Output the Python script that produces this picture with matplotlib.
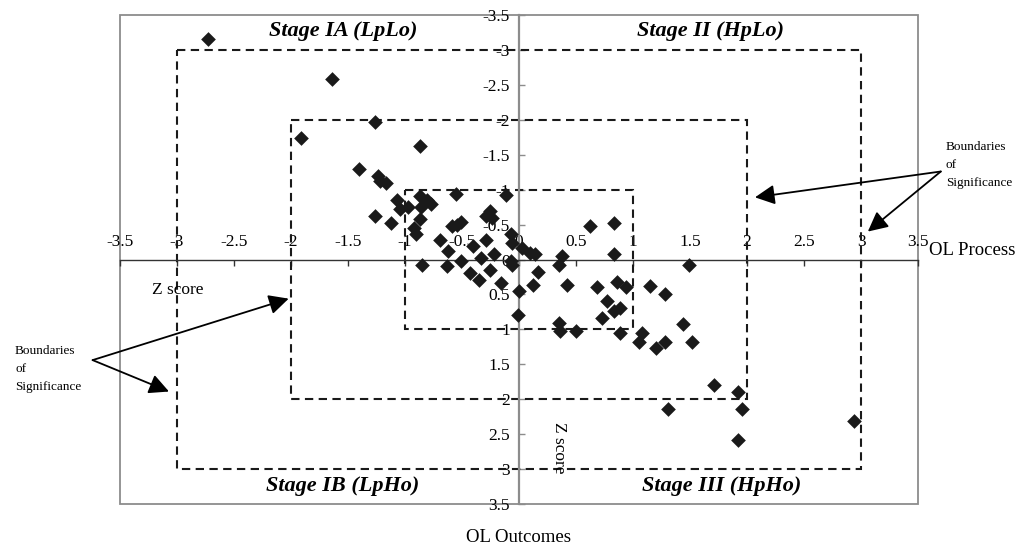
import numpy as np
import matplotlib
matplotlib.use('Agg')
import matplotlib.pyplot as plt
from matplotlib.patches import Rectangle

plt.rcParams['font.family'] = ['Liberation Serif', 'DejaVu Serif']

# z scores (x = OL process, y = OL outcomes)
ol_process = [-2.73, -1.64, -1.91, -1.26, -0.87, -1.40, -1.24, -1.22, -1.17,
              -1.07, -1.26, -1.12, -1.04, -0.97, -0.87, -0.86, -0.81, -0.77,
              -0.87, -0.92, -0.90, -0.55, -0.85, -0.69, -0.62, -0.63, -0.59,
              -0.51, -0.54, -0.51, -0.40, -0.43, -0.35, -0.33, -0.29, -0.29,
              -0.25, -0.24, -0.25, -0.22, -0.16, -0.11, -0.07, -0.06, -0.07,
              -0.06, 0.00, -0.01, 0.03, 0.10, 0.14, 0.17, 0.12, 0.35, 0.38,
              0.42, 0.35, 0.36, 0.50, 0.62, 0.83, 0.83, 0.68, 0.86, 0.94,
              0.77, 0.83, 0.89, 0.73, 0.89, 1.08, 1.05, 1.20, 1.28, 1.15,
              1.28, 1.49, 1.44, 1.52, 1.71, 1.92, 1.31, 1.96, 1.92, 2.94]
ol_outcomes = [-3.16, -2.59, -1.74, -1.97, -1.62, -1.30, -1.20, -1.13, -1.09,
               -0.85, -0.62, -0.52, -0.73, -0.75, -0.91, -0.75, -0.85, -0.80,
               -0.58, -0.45, -0.37, -0.94, 0.08, -0.28, -0.12, 0.10, -0.48,
               -0.54, -0.49, 0.02, -0.20, 0.19, 0.30, -0.02, -0.28, -0.63,
               -0.69, -0.59, 0.15, -0.08, 0.34, -0.92, -0.37, -0.24, 0.02,
               0.08, 0.45, 0.80, -0.17, -0.09, -0.08, 0.18, 0.36, 0.08, -0.05,
               0.36, 0.91, 1.02, 1.02, -0.48, -0.52, -0.08, 0.40, 0.32, 0.40,
               0.60, 0.74, 0.69, 0.84, 1.05, 1.05, 1.18, 1.27, 1.18, 0.38,
               0.50, 0.08, 0.93, 1.18, 1.79, 1.89, 2.14, 2.14, 2.59, 2.31]

box_limits = [1, 2, 3]
ticks = np.arange(-3.5, 3.51, 0.5)
tick_labels = ['%g' % t for t in ticks]

stage_names = ['Stage IA (LpLo)', 'Stage II (HpLo)', 'Stage IB (LpHo)', 'Stage III (HpHo)']
stage_x = [-1.54, 1.68, -1.55, 1.78]
stage_y = [-3.27, -3.27, 3.24, 3.24]

fig = plt.figure(figsize=(10.28, 5.46), dpi=100)
ax = fig.add_axes([0.1167, 0.0769, 0.7763, 0.8956])
ax.set_xlim(-3.5, 3.5)
ax.set_ylim(3.5, -3.5)

# axes crossing at the origin
ax.spines['left'].set_position(('data', 0))
ax.spines['bottom'].set_position(('data', 0))
ax.spines['top'].set_position(('data', 0))
ax.spines['top'].set_visible(False)
ax.spines['right'].set_visible(False)
ax.spines['left'].set_color('#8c8c8c')
ax.spines['left'].set_linewidth(1.6)
ax.spines['bottom'].set_color('#333333')
ax.spines['bottom'].set_linewidth(1.0)

ax.set_xticks(ticks)
ax.set_xticklabels(tick_labels)
ax.set_yticks(ticks)
ax.set_yticklabels(tick_labels)
ax.tick_params(axis='x', direction='out', length=4, width=1, color='#333333',
               labelbottom=False, labeltop=True, top=False, pad=3, labelsize=12.5)
ax.tick_params(axis='y', direction='in', length=4.5, width=1, color='#8c8c8c',
               pad=6.5, labelsize=12.5)

# plot area frame
ax.add_patch(Rectangle((0, 0), 1, 1, transform=ax.transAxes, fill=False,
                       ec='#8c8c8c', lw=1.3, clip_on=False, zorder=0.5))

# boundaries of significance
for b in box_limits:
    ax.add_patch(Rectangle((-b, -b), 2 * b, 2 * b, fill=False, ec='#1a1a1a',
                           lw=1.5, ls=(0, (4, 2.6)), zorder=2))

ax.scatter(ol_process, ol_outcomes, marker='D', s=56, color='#1a1a1a',
           lw=0, zorder=3, clip_on=False)

for name, sx, sy in zip(stage_names, stage_x, stage_y):
    ax.text(sx, sy, name, ha='center', va='center', fontsize=16,
            fontweight='bold', fontstyle='italic')

ax.text(-2.99, 0.43, 'Z score', ha='center', va='center', fontsize=12.5)
ax.text(0.35, 2.69, 'Z score', ha='center', va='center', fontsize=12.5,
        rotation=270)
ax.text(3.6, -0.13, 'OL Process', ha='left', va='center', fontsize=13.5,
        clip_on=False)
fig.text(519 / 1028, 1 - 537 / 546, 'OL Outcomes', ha='center', va='center',
         fontsize=13.5)

arrow = dict(arrowstyle='-|>', color='black', lw=1.3, mutation_scale=30,
             shrinkA=0, shrinkB=0)
for tip in [(-2.02, 0.56), (-3.07, 1.89)]:
    ax.annotate('', xy=tip, xytext=(-3.74, 1.44), arrowprops=arrow,
                annotation_clip=False)
for tip in [(2.07, -0.89), (3.06, -0.40)]:
    ax.annotate('', xy=tip, xytext=(3.70, -1.26), arrowprops=arrow,
                annotation_clip=False)

fig.text(15 / 1028, 1 - 369 / 546, 'Boundaries\nof\nSignificance', ha='left',
         va='center', fontsize=9.5, linespacing=1.65)
fig.text(946 / 1028, 1 - 165 / 546, 'Boundaries\nof\nSignificance', ha='left',
         va='center', fontsize=9.5, linespacing=1.65)

fig.savefig('out.png', dpi=100)
